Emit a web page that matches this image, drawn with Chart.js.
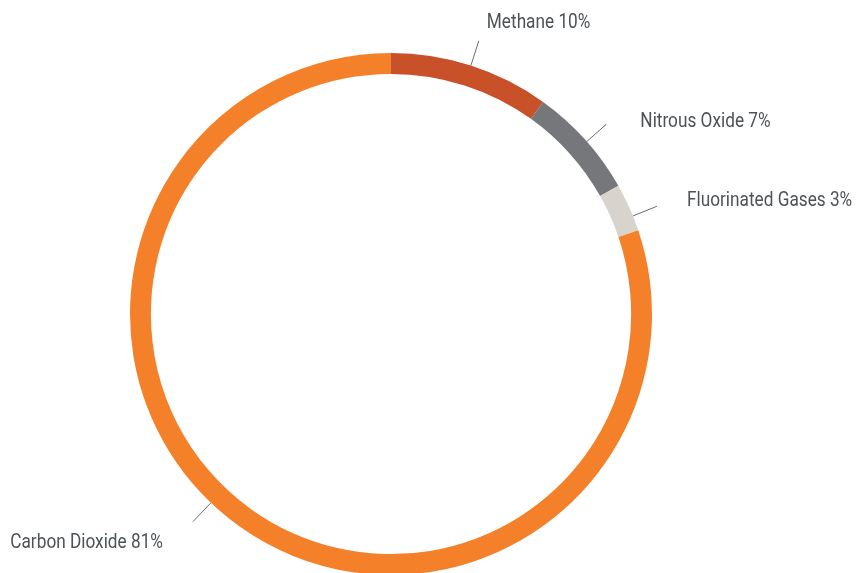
<!DOCTYPE html>
<html>
<head>
<meta charset="utf-8">
<script src="https://cdn.jsdelivr.net/npm/chart.js@4"></script>
<style>
  html, body { margin: 0; padding: 0; background: #fff; overflow: hidden; }
  #wrap { position: absolute; left: 0; top: 0; width: 858px; height: 600px; }
</style>
</head>
<body>
<div id="wrap"><canvas id="chart"></canvas></div>
<script>
// greenhouse gas share, clockwise from the top
const gases = ['Methane', 'Nitrous Oxide', 'Fluorinated Gases', 'Carbon Dioxide'];
const shares = [10, 7, 3, 81];
const colors = ['#c8512a', '#75777b', '#d8d3cc', '#f4812a'];

// where each label sits relative to the end of its leader line
const labelStyle = [
    { dx: 8, dy: -18, align: 'left', turn: 0 },
    { dx: 34, dy: -3, align: 'left', turn: 0.5 },
    { dx: 30, dy: -5, align: 'left', turn: 2 },
    { dx: -30, dy: 21, align: 'right', turn: 8 }
];
const squeeze = 0.82; // condensed look for the label font

const leaderLabels = {
    id: 'leaderLabels',
    afterDraw(chart) {
        const ctx = chart.ctx;
        const meta = chart.getDatasetMeta(0);
        ctx.save();
        meta.data.forEach((arc, i) => {
            const p = arc.getProps(['x', 'y', 'startAngle', 'endAngle', 'outerRadius']);
            const s = labelStyle[i];
            const a = (p.startAngle + p.endAngle) / 2 + s.turn * Math.PI / 180;
            const x1 = p.x + Math.cos(a) * p.outerRadius;
            const y1 = p.y + Math.sin(a) * p.outerRadius;
            const x2 = p.x + Math.cos(a) * (p.outerRadius + 26);
            const y2 = p.y + Math.sin(a) * (p.outerRadius + 26);
            ctx.strokeStyle = '#6b6e72';
            ctx.lineWidth = 1;
            ctx.beginPath();
            ctx.moveTo(x1, y1);
            ctx.lineTo(x2, y2);
            ctx.stroke();

            ctx.save();
            ctx.font = '21px Roboto, sans-serif';
            ctx.textBaseline = 'middle';
            ctx.textAlign = s.align;
            ctx.fillStyle = '#4d5257';
            ctx.translate(x2 + s.dx, y2 + s.dy);
            ctx.scale(squeeze, 1);
            ctx.fillText(gases[i] + ' ' + shares[i] + '%', 0, 0);
            ctx.restore();
        });
        ctx.restore();
    }
};

new Chart(document.getElementById('chart').getContext('2d'), {
    type: 'doughnut',
    data: {
        labels: gases,
        datasets: [{
            data: shares,
            backgroundColor: colors,
            borderWidth: 0
        }]
    },
    options: {
        responsive: true,
        maintainAspectRatio: false,
        animation: false,
        cutout: '92%',
        layout: { padding: { top: 53, bottom: 25, left: 130, right: 206 } },
        plugins: {
            legend: { display: false },
            tooltip: { enabled: false }
        }
    },
    plugins: [leaderLabels]
});
</script>
</body>
</html>
